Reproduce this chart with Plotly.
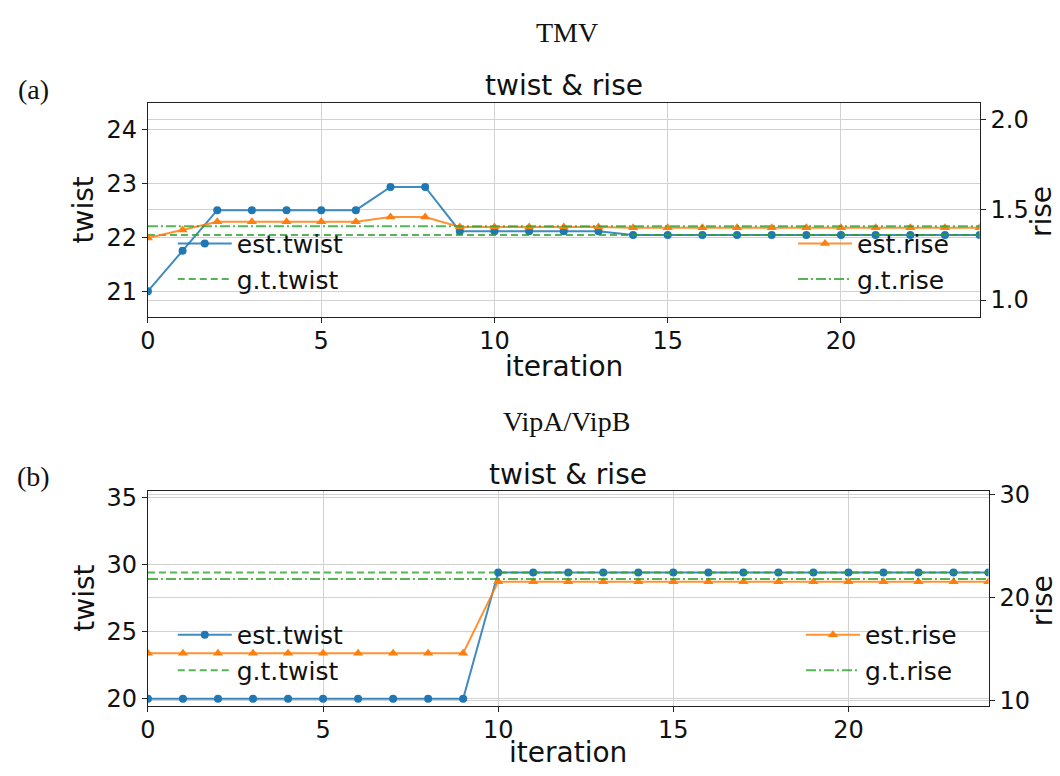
import plotly.graph_objects as go

W, H = 1060, 776

iterations = list(range(25))

# (a) TMV
tmv_est_twist = [21.0, 21.75, 22.5, 22.5, 22.5, 22.5, 22.5, 22.93, 22.93,
                 22.11, 22.11, 22.11, 22.11, 22.11,
                 22.04, 22.04, 22.04, 22.04, 22.04, 22.04, 22.04, 22.04, 22.04, 22.04, 22.04]
tmv_est_rise = [1.344, 1.389, 1.434, 1.434, 1.434, 1.434, 1.434, 1.461, 1.461,
                1.406, 1.406, 1.406, 1.406, 1.406,
                1.401, 1.401, 1.401, 1.401, 1.401, 1.401, 1.401, 1.401, 1.401, 1.401, 1.401]
tmv_gt_twist = 22.04
tmv_gt_rise = 1.41

# (b) VipA/VipB
vip_est_twist = [20.0] * 10 + [29.4] * 15
vip_est_rise = [14.62] * 10 + [21.56] * 15
vip_gt_twist = 29.4
vip_gt_rise = 21.81

x_ticks = [0, 5, 10, 15, 20]
tmv_twist_ticks = [21, 22, 23, 24]
tmv_rise_ticks = [1.0, 1.5, 2.0]
vip_twist_ticks = [20, 25, 30, 35]
vip_rise_ticks = [10, 20, 30]

BLUE = "#1f77b4"
ORANGE = "#ff7f0e"
BLUE_L = "rgba(31,119,180,0.85)"
ORANGE_L = "rgba(255,127,14,0.85)"
GREEN_L = "rgba(44,160,44,0.8)"
GRID = "#d2d2d2"
SANS = "DejaVu Sans"
SERIF = "Liberation Serif"

fig = go.Figure()

def add_panel(xa, ya_l, ya_r, est_tw, est_ri, gt_tw, gt_ri, leg_l, leg_r):
    fig.add_trace(go.Scatter(x=iterations, y=est_tw, xaxis=xa, yaxis=ya_l, name="est.twist",
                             mode="lines+markers", line=dict(color=BLUE_L, width=2),
                             marker=dict(color=BLUE, size=8, symbol="circle"), legend=leg_l))
    fig.add_trace(go.Scatter(x=iterations, y=[gt_tw] * len(iterations), xaxis=xa, yaxis=ya_l,
                             name="g.t.twist", mode="lines",
                             line=dict(color=GREEN_L, width=2, dash="7px,4px"), legend=leg_l))
    fig.add_trace(go.Scatter(x=iterations, y=est_ri, xaxis=xa, yaxis=ya_r, name="est.rise",
                             mode="lines+markers", line=dict(color=ORANGE_L, width=2),
                             marker=dict(color=ORANGE, size=9, symbol="triangle-up"), legend=leg_r))
    fig.add_trace(go.Scatter(x=iterations, y=[gt_ri] * len(iterations), xaxis=xa, yaxis=ya_r,
                             name="g.t.rise", mode="lines",
                             line=dict(color=GREEN_L, width=2, dash="10px,3px,2px,3px"), legend=leg_r))

add_panel("x", "y", "y2", tmv_est_twist, tmv_est_rise, tmv_gt_twist, tmv_gt_rise, "legend", "legend2")
add_panel("x2", "y3", "y4", vip_est_twist, vip_est_rise, vip_gt_twist, vip_gt_rise, "legend3", "legend4")

tickfont = dict(family=SANS, size=24, color="#111")

def xax(domain, anchor):
    return dict(domain=domain, anchor=anchor, range=[0, 24], tickvals=x_ticks,
                showgrid=True, gridcolor=GRID, gridwidth=1.3, zeroline=False,
                showline=True, mirror=True, linecolor="#222", linewidth=1.3,
                ticks="outside", ticklen=5, tickcolor="#222", tickfont=tickfont,
                ticklabelstandoff=-3)

def yax(domain, anchor, rng, tv, side="left", overlaying=None, fmt=None):
    d = dict(domain=domain, anchor=anchor, range=rng, tickvals=tv, side=side,
             showgrid=True, gridcolor=GRID, gridwidth=1.3, zeroline=False,
             showline=True, linecolor="#222", linewidth=1.3,
             ticks="outside", ticklen=5, tickcolor="#222", tickfont=tickfont)
    if overlaying:
        d["overlaying"] = overlaying
    if fmt:
        d["tickformat"] = fmt
    return d

ya_dom = [1 - 315 / H, 1 - 95 / H]
yb_dom = [1 - 713.3 / H, 1 - 493.3 / H]

leg_font = dict(family=SANS, size=25, color="#111")

def legend(x, y):
    return dict(x=x, y=y, xanchor="left", yanchor="top", bgcolor="rgba(0,0,0,0)",
                font=leg_font, itemwidth=54, tracegroupgap=0)

fig.update_layout(
    width=W, height=H, margin=dict(l=0, r=0, t=0, b=0),
    paper_bgcolor="white", plot_bgcolor="white",
    xaxis=xax([141 / W, 979 / W], "y"),
    yaxis=yax(ya_dom, "x", [20.517, 24.49], tmv_twist_ticks),
    yaxis2=yax(ya_dom, "x", [0.904, 2.096], tmv_rise_ticks, side="right", overlaying="y", fmt=".1f"),
    xaxis2=xax([141 / W, 988 / W], "y3"),
    yaxis3=yax(yb_dom, "x2", [19.47, 35.44], vip_twist_ticks),
    yaxis4=yax(yb_dom, "x2", [9.53, 30.32], vip_rise_ticks, side="right", overlaying="y3"),
    legend=legend(166 / W, 1 - 216 / H),
    legend2=legend(791 / W, 1 - 216 / H),
    legend3=legend(166 / W, 1 - 617 / H),
    legend4=legend(799 / W, 1 - 617 / H),
    showlegend=True,
)

def ann(text, x, y, size=28, family=SANS, angle=0):
    fig.add_annotation(text=text, x=x / W, y=1 - y / H, xref="paper", yref="paper",
                       showarrow=False, xanchor="center", yanchor="middle",
                       textangle=angle, font=dict(family=family, size=size, color="#111"))

ann("TMV", 563, 23, size=28, family=SERIF)
ann("(a)", 26, 81, size=28, family=SERIF)
ann("twist &amp; rise", 560, 77, size=28)
ann("iteration", 560, 365, size=28)
ann("twist", 77, 205, size=28, angle=-90)
ann("rise", 1042, 207, size=28, angle=-90)

ann("VipA/VipB", 563, 422, size=28, family=SERIF)
ann("(b)", 26, 478, size=28, family=SERIF)
ann("twist &amp; rise", 564, 476, size=28)
ann("iteration", 564, 761, size=28)
ann("twist", 77, 603, size=28, angle=-90)
ann("rise", 1042, 606, size=28, angle=-90)

fig.write_html("out.html")
